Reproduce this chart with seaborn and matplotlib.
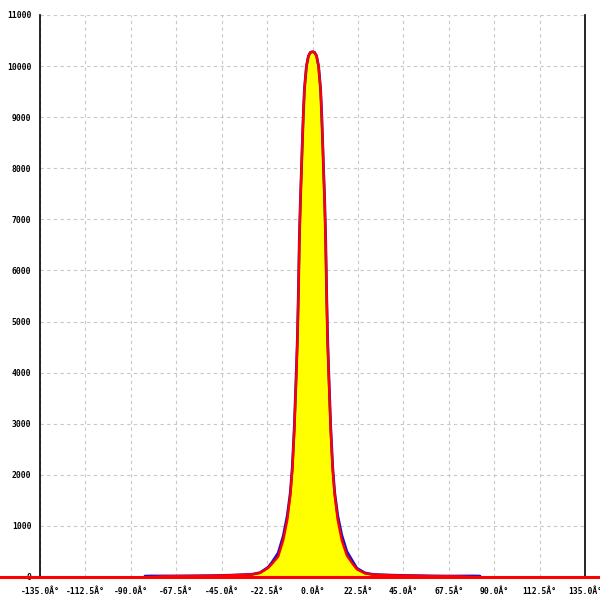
import numpy as np
import pandas as pd
import seaborn as sns
import matplotlib.pyplot as plt

# angle bins (degrees) and counts
angles = [-83, -80, -75, -70, -60, -50, -40, -30, -26, -22, -20, -17, -14.5, -12.5,
          -11, -10, -9, -8, -7.5, -7, -6.5, -6, -5.5, -5, -4.5, -4, -3, -2, -1, 0,
          1, 2, 3, 4, 4.5, 5, 5.5, 6, 6.5, 7, 7.5, 8, 9, 10, 11,
          12.5, 14.5, 17, 20, 22, 26, 30, 40, 50, 60, 70, 75, 80, 83]
counts_red = [0, 0, 12, 15, 20, 25, 35, 50, 80, 176, 260, 400, 720, 1115,
              1600, 2100, 2900, 4000, 4600, 5500, 6600, 7350, 7950, 8550, 9100, 9550, 10000, 10200, 10270, 10280,
              10270, 10200, 10000, 9550, 9100, 8550, 7950, 7350, 6600, 5500, 4600, 4000, 2900, 2100, 1600,
              1115, 720, 420, 250, 150, 70, 45, 32, 25, 18, 14, 10, 0, 0]
counts_blue = [18, 20, 20, 20, 22, 26, 36, 52, 85, 190, 290, 470, 800, 1200,
               1650, 2150, 2950, 4050, 4650, 5550, 6650, 7350, 7950, 8550, 9100, 9550, 10000, 10200, 10270, 10280,
               10270, 10200, 10000, 9550, 9100, 8550, 7950, 7400, 6650, 5550, 4650, 4050, 2950, 2150, 1650,
               1200, 820, 500, 300, 170, 80, 50, 35, 27, 20, 18, 20, 20, 18]

xticks = np.arange(-135, 135.1, 22.5)
xtick_labels = ['%.1fÂ°' % t for t in xticks]
yticks = np.arange(0, 11001, 1000)

df = pd.DataFrame({'angle': angles, 'red': counts_red, 'blue': counts_blue})

sns.set_style('white')
plt.rcParams['font.family'] = ['DejaVu Sans Mono']

fig = plt.figure(figsize=(6, 6), dpi=100)
ax = fig.add_axes([40 / 600, 1 - 577 / 600, 545 / 600, 562 / 600])

sns.lineplot(data=df, x='angle', y='blue', color='#1a10c8', linewidth=2, ax=ax, zorder=3)
ax.fill_between(df['angle'], 0, df['red'], color='#ffff00', zorder=2, linewidth=0)
sns.lineplot(data=df, x='angle', y='red', color='#ff0000', linewidth=1.7, ax=ax, zorder=4)

# baseline runs across the whole figure
ax.axhline(0, xmin=-0.08, xmax=1.05, color='#ff0000', linewidth=2.2, clip_on=False, zorder=5)

ax.set_xlim(-135, 135)
ax.set_ylim(0, 11000)
ax.set_xticks(xticks)
ax.set_xticklabels(xtick_labels)
ax.set_yticks(yticks)
ax.set_yticklabels([str(v) for v in yticks])
ax.set_xlabel('')
ax.set_ylabel('')

ax.grid(True, color='#c8c8c8', linestyle=(0, (3, 3)), linewidth=0.8)
ax.set_axisbelow(True)

ax.spines['top'].set_visible(False)
for s in ['left', 'right', 'bottom']:
    ax.spines[s].set_color('black')
    ax.spines[s].set_linewidth(1.2)

ax.tick_params(axis='both', direction='inout', length=6.5, width=1.2, colors='black',
               labelsize=5.8)
ax.tick_params(axis='x', pad=4)
ax.tick_params(axis='y', pad=3)
for lab in ax.get_xticklabels() + ax.get_yticklabels():
    lab.set_fontweight('bold')

fig.savefig('out.png', dpi=100)
